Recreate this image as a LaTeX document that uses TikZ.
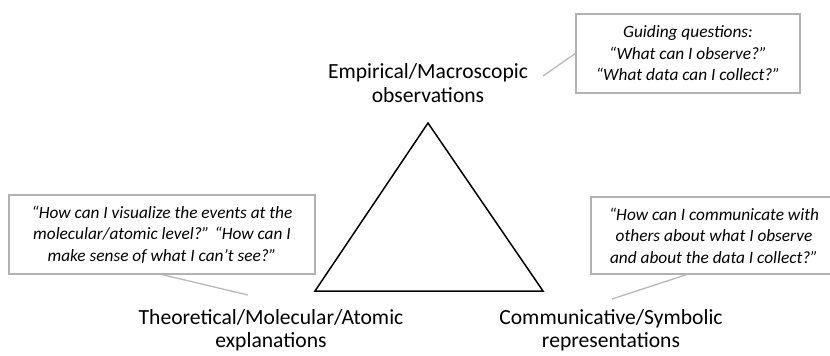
\documentclass[tikz,border=0pt]{standalone}
\usepackage{fontspec}
\setmainfont{Carlito}
\begin{document}
\begin{tikzpicture}[x=1pt,y=-1pt,
  corner/.style={font=\fontsize{21.6}{23.5}\selectfont, align=center, inner sep=0pt},
  qbox/.style={draw=black!30, line width=1.3pt, rectangle, inner sep=0pt,
    font=\fontsize{17.3}{21.5}\selectfont\itshape, align=center},
  pointer/.style={draw=black!28, line width=1.3pt},
  tri/.style={draw=black, line width=1.5pt, line join=miter}]
  \useasboundingbox (0,0) rectangle (830,356);
  \clip (0,0) rectangle (830,356);

  % the triangle
  \coordinate (apex) at (428,123);
  \coordinate (bl) at (315,291);
  \coordinate (br) at (543,291);
  \draw[tri] (apex) -- (bl) -- (br) -- cycle;

  % corner labels
  \node[corner] (emp) at (428,83) {Empirical/Macroscopic\\observations};
  \node[corner] (theo) at (271,330) {Theoretical/Molecular/Atomic\\explanations};
  \node[corner] (comm) at (611,330) {Communicative/Symbolic\\representations};

  % question boxes
  \node[qbox, minimum width=224, minimum height=79] (qtop) at (688,53.5)
    {Guiding questions:\\“What can I observe?”\\“What data can I collect?”};
  \node[qbox, minimum width=306, minimum height=79] (qleft) at (162,234.5)
    {“How can I visualize the events at the\\molecular/atomic level?” “How can I\\make sense of what I can’t see?”};
  \node[qbox, minimum width=246, minimum height=77] (qright) at (714,235.5)
    {“How can I communicate with\\others about what I observe\\and about the data I collect?”};

  % pointers from boxes toward labels
  \coordinate (ptop) at (543,76);
  \coordinate (pleft) at (248,295);
  \coordinate (pright) at (612,299);
  \draw[pointer] (qtop.west) -- (ptop);
  \draw[pointer] (qleft.south west) ++(154,0) -- (pleft);
  \draw[pointer] (qright.south west) ++(96,0) -- (pright);
\end{tikzpicture}
\end{document}
